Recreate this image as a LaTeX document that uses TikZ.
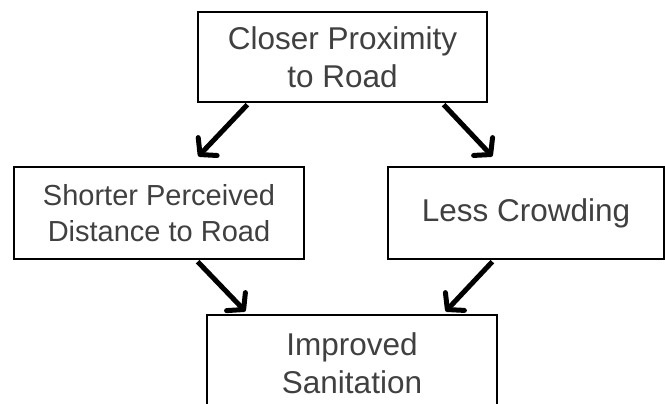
\documentclass[tikz,border=0pt]{standalone}
\usepackage{fontspec}
\setmainfont{Liberation Sans}
\usetikzlibrary{arrows.meta}
\definecolor{txtgray}{HTML}{404040}
\tikzset{
  factor/.style={draw=black, line width=1.3pt, fill=white, align=center,
    text=txtgray, inner sep=0pt, font=\fontsize{31.5}{38}\selectfont},
  flow/.style={line width=5pt, -{Straight Barb[length=11pt,width=26pt,line width=5pt,round]}}
}
\begin{document}
\begin{tikzpicture}[x=1pt, y=-1pt]
    \useasboundingbox (0,0) rectangle (665,404);
    \clip (0,0) rectangle (665,404);
    \node[factor, minimum width=289pt, minimum height=90pt] (proximity) at (342.5,57) {Closer Proximity\\to Road};
    \node[factor, minimum width=290pt, minimum height=92pt, font=\fontsize{29}{36}\selectfont] (distance) at (159,213) {Shorter Perceived\\Distance to Road};
    \node[factor, minimum width=276pt, minimum height=92pt] (crowding) at (526,213) {Less Crowding};
    \node[factor, minimum width=290pt, minimum height=97pt] (sanitation) at (352,363.5) {Improved\\Sanitation};
    \draw[flow] ([xshift=50pt,yshift=-2pt]proximity.south west) -- ([xshift=185pt,yshift=10pt]distance.north west);
    \draw[flow] ([xshift=-44pt,yshift=-2pt]proximity.south east) -- ([xshift=105pt,yshift=10pt]crowding.north west);
    \draw[flow] ([xshift=-107pt,yshift=-2pt]distance.south east) -- ([xshift=39pt,yshift=3pt]sanitation.north west);
    \draw[flow] ([xshift=105pt,yshift=-2pt]crowding.south west) -- ([xshift=-52pt,yshift=3pt]sanitation.north east);
\end{tikzpicture}
\end{document}
